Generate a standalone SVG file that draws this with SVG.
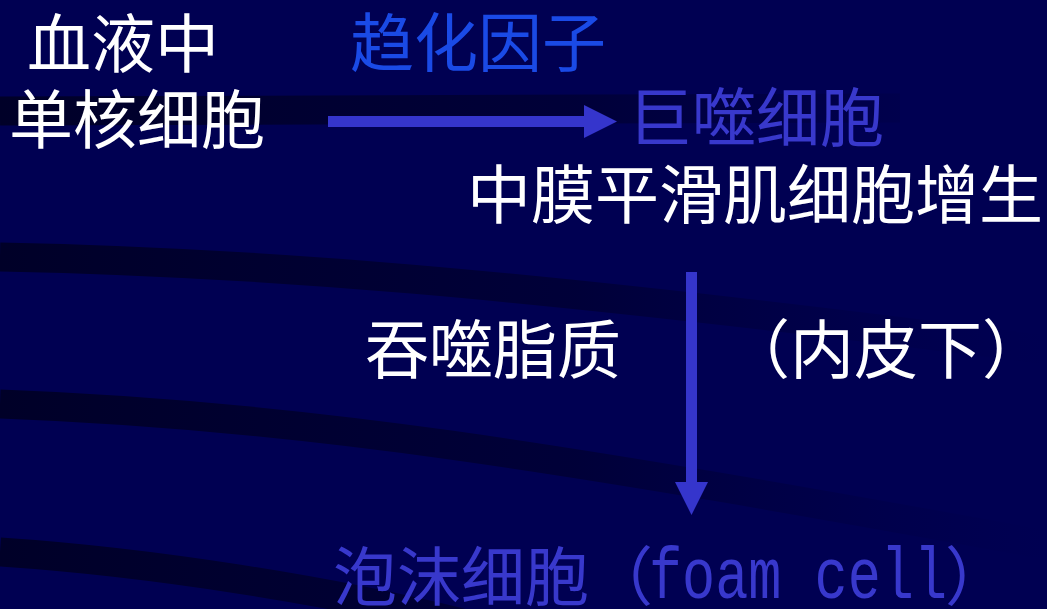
<svg xmlns="http://www.w3.org/2000/svg" width="1047" height="609" viewBox="0 0 1047 609">
  <defs>
    <linearGradient id="bandFade" gradientUnits="userSpaceOnUse" x1="0" y1="0" x2="1047" y2="0">
      <stop offset="0" stop-color="#000028" stop-opacity="1"/>
      <stop offset="0.55" stop-color="#000030" stop-opacity="0.75"/>
      <stop offset="1" stop-color="#000040" stop-opacity="0"/>
    </linearGradient>
    <marker id="head" viewBox="0 0 10 10" refX="0" refY="5" markerWidth="3" markerHeight="3" orient="auto" markerUnits="strokeWidth">
      <path d="M0,0 L10,5 L0,10 Z" fill="#3535cc"/>
    </marker>
    <style>
      .cjk { font-family: "Noto Sans CJK SC", "Noto Sans", sans-serif; font-size: 64px; }
      .white { fill: #ffffff; }
      .blue { fill: #3838cc; }
      .bright { fill: #1a4ae6; }
      .mono { font-family: "Liberation Mono", "DejaVu Sans Mono", monospace; font-size: 72px; fill: #3838cc; }
      .band { fill: none; stroke: url(#bandFade); stroke-width: 29; }
      .conn { stroke: #3535cc; stroke-width: 11; fill: none; }
    </style>
  </defs>

  <rect x="0" y="0" width="1047" height="609" fill="#000052"/>

  <g id="background-bands">
    <path class="band" d="M0,111 C300,111 600,110 900,108"/>
    <path class="band" d="M0,257 C250,262 500,280 1047,350"/>
    <path class="band" d="M0,404 C300,415 550,455 1047,545"/>
    <path class="band" d="M0,552 C150,562 330,590 470,625"/>
  </g>

  <g id="connectors">
    <line class="conn" x1="328" y1="121.5" x2="584" y2="121.5" marker-end="url(#head)"/>
    <line class="conn" x1="691.5" y1="272" x2="691.5" y2="482" marker-end="url(#head)"/>
  </g>

  <g id="node-blood-monocyte">
    <text class="cjk white" x="27" y="67">血液中</text>
    <text class="cjk white" x="9" y="143">单核细胞</text>
  </g>

  <g id="node-chemotactic">
    <text class="cjk bright" x="350" y="66">趋化因子</text>
  </g>

  <g id="node-macrophage">
    <text class="cjk blue" x="628" y="141">巨噬细胞</text>
  </g>

  <g id="node-smc">
    <text class="cjk white" x="467" y="218">中膜平滑肌细胞增生</text>
  </g>

  <g id="node-phagocytosis">
    <text class="cjk white" x="365" y="373">吞噬脂质</text>
  </g>

  <g id="node-subendothelial">
    <text class="cjk white" x="726" y="373">（内皮下）</text>
  </g>

  <g id="node-foam-cell">
    <text class="cjk blue" x="333" y="600">泡沫细胞（</text>
    <text class="mono" x="649" y="598" textLength="298" lengthAdjust="spacingAndGlyphs">foam cell</text>
    <text class="cjk blue" x="945" y="600">）</text>
  </g>
</svg>
